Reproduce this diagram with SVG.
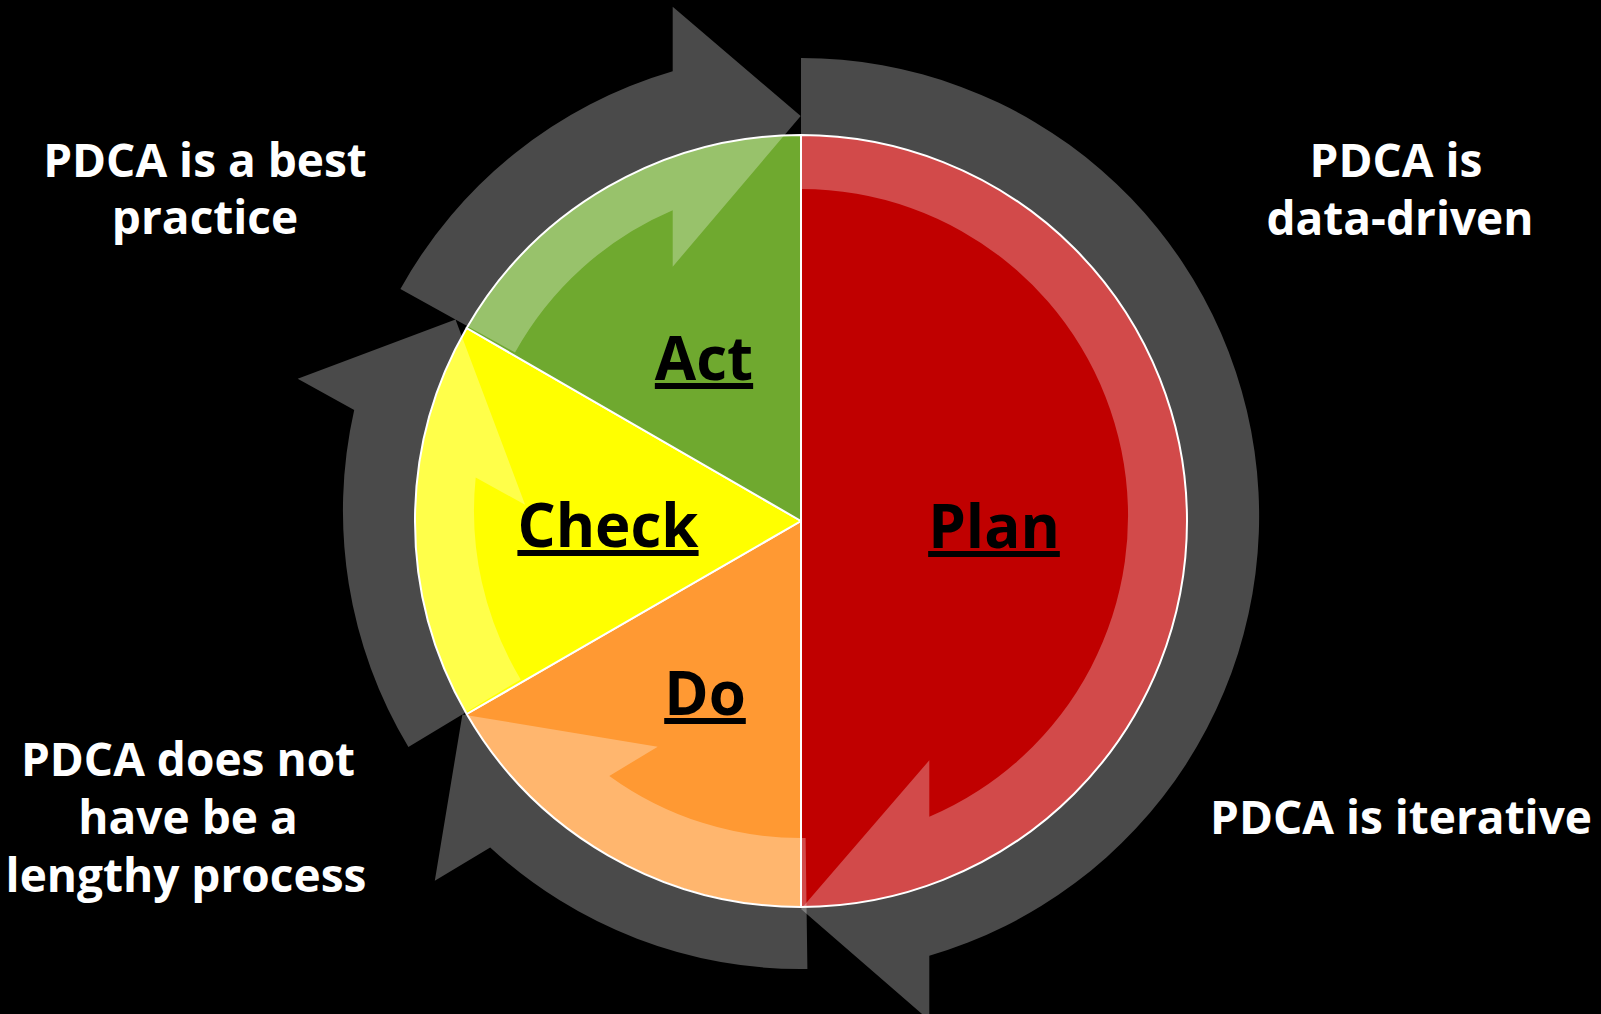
<svg xmlns="http://www.w3.org/2000/svg" width="1601" height="1014" viewBox="0 0 1601 1014">
  <style>
    .slice { stroke: #ffffff; stroke-width: 2; stroke-linejoin: round; }
    .cyc { fill: #ffffff; fill-opacity: 0.29; stroke: none; }
    .note { font-family: "Open Sans", "Noto Sans", "Liberation Sans", sans-serif; font-weight: 700; font-size: 46px; fill: #ffffff; text-anchor: middle; }
    .stage { font-family: "Open Sans", "Noto Sans", "Liberation Sans", sans-serif; font-weight: 700; font-size: 60px; fill: #000000; text-anchor: middle; text-decoration: underline; }
  </style>

  <rect x="0" y="0" width="1601" height="1014" fill="#000000"/>

  <!-- pie: centre (801,521), radius 386 -->
  <g id="plan">
    <path class="slice" fill="#c00000" d="M 801 521 L 801 135 A 386 386 0 0 1 801 907 Z"/>
  </g>
  <g id="do">
    <path class="slice" fill="#ff9933" d="M 801 521 L 801 907 A 386 386 0 0 1 466.7 714 Z"/>
  </g>
  <g id="check">
    <path class="slice" fill="#ffff00" d="M 801 521 L 466.7 714 A 386 386 0 0 1 466.7 328 Z"/>
  </g>
  <g id="act">
    <path class="slice" fill="#6fa92f" d="M 801 521 L 466.7 328 A 386 386 0 0 1 801 135 Z"/>
  </g>

  <!-- translucent circular arrows running clockwise round the pie -->
  <g id="connectors">
    <path id="arrow-plan" class="cyc" d="M 801 58 A 458 458 0 0 1 929.3 955.7 L 929.3 1020.3 L 801 909 L 929.3 760.3 L 929.3 816.8 A 327 327 0 0 0 801 189 Z"/>
    <path id="arrow-do" class="cyc" d="M 807.4 969 A 458 458 0 0 1 490.2 847.4 L 434.8 880.7 L 462.4 714.4 L 657.7 746.8 L 609.3 775.9 A 327 327 0 0 0 805.6 838 Z"/>
    <path id="arrow-check" class="cyc" d="M 408.4 746.9 A 458 458 0 0 1 354.2 410 L 297.7 378.7 L 455.5 319.5 L 525.1 504.8 L 475.7 477.4 A 327 327 0 0 0 520.7 679.4 Z"/>
    <path id="arrow-act" class="cyc" d="M 400.4 289 A 458 458 0 0 1 672.7 71.3 L 672.7 6.7 L 800.7 116 L 672.7 266.7 L 672.7 210.2 A 327 327 0 0 0 515 352.5 Z"/>
  </g>

  <!-- stage labels -->
  <g id="labels">
    <text class="stage" x="994" y="548">Plan</text>
    <text class="stage" x="705" y="715">Do</text>
    <text class="stage" x="608" y="547">Check</text>
    <text class="stage" x="704" y="380">Act</text>
  </g>

  <!-- side notes -->
  <g id="note-best-practice">
    <text class="note" x="205" y="177">PDCA is a best</text>
    <text class="note" x="205" y="234">practice</text>
  </g>
  <g id="note-data-driven">
    <text class="note" x="1396" y="177">PDCA is</text>
    <text class="note" x="1400" y="235">data-driven</text>
  </g>
  <g id="note-lengthy">
    <text class="note" x="188" y="776">PDCA does not</text>
    <text class="note" x="188" y="834">have be a</text>
    <text class="note" x="186" y="892">lengthy process</text>
  </g>
  <g id="note-iterative">
    <text class="note" x="1401" y="834">PDCA is iterative</text>
  </g>
</svg>
